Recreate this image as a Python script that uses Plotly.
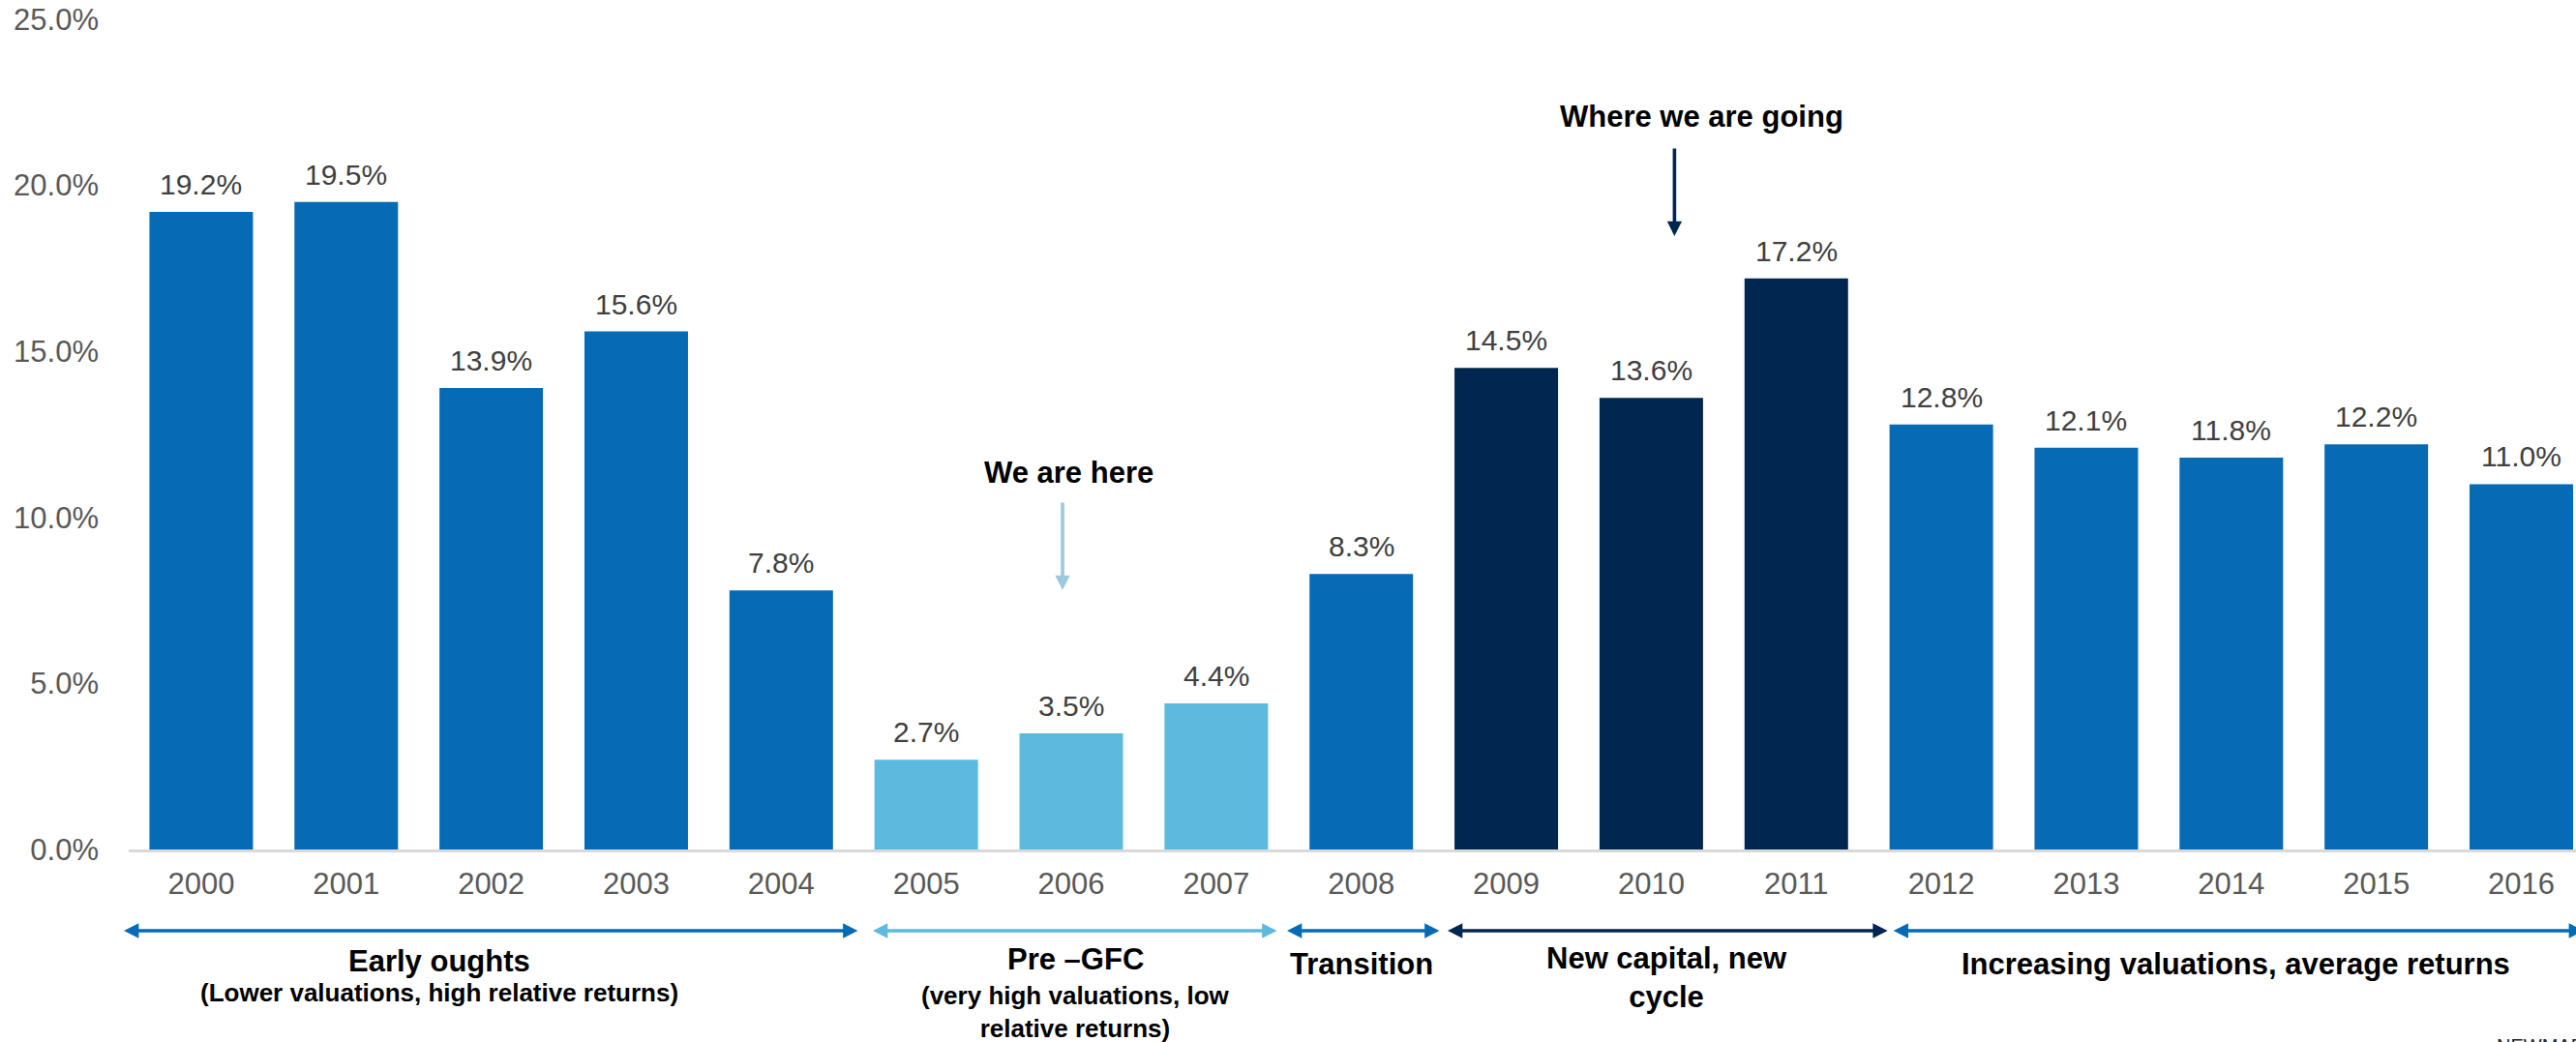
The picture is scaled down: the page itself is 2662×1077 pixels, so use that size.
import plotly.graph_objects as go

# données
years = ["2000", "2001", "2002", "2003", "2004", "2005", "2006", "2007", "2008",
         "2009", "2010", "2011", "2012", "2013", "2014", "2015", "2016"]
returns = [19.2, 19.5, 13.9, 15.6, 7.8, 2.7, 3.5, 4.4, 8.3,
           14.5, 13.6, 17.2, 12.8, 12.1, 11.8, 12.2, 11.0]
phases = ["early"] * 5 + ["pre"] * 3 + ["transition"] + ["new"] * 3 + ["increasing"] * 5
y_ticks = [0, 5, 10, 15, 20, 25]

# périodes en bas du graphique (début, fin en position de catégorie)
period_keys = ["early", "pre", "transition", "new", "increasing"]
period_start = [-0.533, 4.632, 7.488, 8.596, 11.67]
period_end = [4.538, 7.428, 8.549, 11.64, 16.44]
period_titles = ["Early oughts", "Pre \u2013GFC", "Transition", "New capital, new<br>cycle",
                 "Increasing valuations, average returns"]
period_subtitles = ["(Lower valuations, high relative returns)",
                    "(very high valuations, low<br>relative returns)"]

colors = {
    "early": "#066AB4",
    "pre": "#5BBADE",
    "transition": "#066AB4",
    "new": "#01264F",
    "increasing": "#066AB4",
}

FONT = "Liberation Sans, Arial, sans-serif"
PCT = "&#37;"  # signe pour cent en entité
W, H = 2662, 1077
M_L, M_R, M_T, M_B = 133, 0, 20, 199
Y_MAX = 25


def py(ypx):
    # pixel vertical -> coordonnée papier
    return (H - M_B - ypx) / (H - M_B - M_T)


fig = go.Figure()
fig.add_trace(go.Bar(
    x=years,
    y=returns,
    marker=dict(color=[colors[p] for p in phases], line=dict(width=0)),
    hoverinfo="x+y",
))

annotations = []

# étiquettes des valeurs au-dessus des barres (position = indice de catégorie)
for i, v in enumerate(returns):
    annotations.append(dict(
        x=i, y=v, xref="x", yref="y", text="{:.1f}".format(v) + PCT, showarrow=False,
        xanchor="center", yanchor="bottom", yshift=10,
        font=dict(family=FONT, size=30, color="#404040"),
    ))

# flèches horizontales des périodes
for key, x0, x1 in zip(period_keys, period_start, period_end):
    annotations.append(dict(
        x=x0, y=py(962), xref="x", yref="paper",
        ax=x1, ay=0, axref="x", ayref="pixel",
        text="", showarrow=True, arrowside="end+start",
        arrowhead=2, startarrowhead=2, arrowsize=0.85, startarrowsize=0.85,
        arrowwidth=3.6, arrowcolor=colors[key], standoff=0, startstandoff=0,
    ))

# titres des périodes
title_x = [1.642, 6.03, 8.0, 10.11, 14.03]
title_y = [993, 991, 997, 1011, 997]
for t, x, y in zip(period_titles, title_x, title_y):
    annotations.append(dict(
        x=x, y=py(y), xref="x", yref="paper", text=f"<b>{t}</b>", showarrow=False,
        xanchor="center", yanchor="middle",
        font=dict(family=FONT, size=31, color="#000000"),
    ))
sub_y = [1026, 1046]
for t, x, y in zip(period_subtitles, title_x[:2], sub_y):
    annotations.append(dict(
        x=x, y=py(y), xref="x", yref="paper", text=f"<b>{t}</b>", showarrow=False,
        xanchor="center", yanchor="middle",
        font=dict(family=FONT, size=26, color="#000000"),
    ))

# "We are here" / "Where we are going"
annotations += [
    dict(x=5.94, y=7.81, xref="x", yref="y", ax=0, ay=-92, text="", showarrow=True,
         arrowhead=2, arrowsize=0.85, arrowwidth=3.6, arrowcolor="#9DC9DE", standoff=0),
    dict(x=5.98, y=11.36, xref="x", yref="y", text="<b>We are here</b>", showarrow=False,
         xanchor="center", yanchor="middle", font=dict(family=FONT, size=31, color="#000000")),
    dict(x=10.16, y=18.47, xref="x", yref="y", ax=0, ay=-92, text="", showarrow=True,
         arrowhead=2, arrowsize=0.85, arrowwidth=3.6, arrowcolor="#01264F", standoff=0),
    dict(x=10.35, y=22.06, xref="x", yref="y", text="<b>Where we are going</b>", showarrow=False,
         xanchor="center", yanchor="middle", font=dict(family=FONT, size=31, color="#000000")),
    dict(x=(2578 - M_L) / (W - M_L - M_R), y=py(1068), xref="paper", yref="paper",
         text="NEWMARK", showarrow=False, xanchor="left", yanchor="top",
         font=dict(family=FONT, size=20, color="#222222")),
]

fig.update_layout(
    width=W,
    height=H,
    margin=dict(l=M_L, r=M_R, t=M_T, b=M_B),
    paper_bgcolor="white",
    plot_bgcolor="white",
    bargap=0.286,
    showlegend=False,
    font=dict(family=FONT),
    annotations=annotations,
    xaxis=dict(
        type="category",
        range=[-0.5, 16.377],
        showgrid=False,
        showline=True,
        linecolor="#D9D9D9",
        linewidth=3,
        ticks="",
        ticklabelstandoff=6,
        tickfont=dict(family=FONT, size=31, color="#595959"),
        fixedrange=True,
    ),
    yaxis=dict(
        range=[0, Y_MAX],
        tickmode="array",
        tickvals=y_ticks,
        ticktext=["{:.1f}".format(t) + PCT for t in y_ticks],
        showgrid=False,
        zeroline=False,
        showline=False,
        ticks="",
        ticklabelstandoff=30,
        tickfont=dict(family=FONT, size=31, color="#595959"),
        fixedrange=True,
    ),
)

fig.write_html(
    "out.html",
    config={"displayModeBar": False},
    post_script="document.body.style.margin='0';document.body.style.overflow='hidden';",
)
